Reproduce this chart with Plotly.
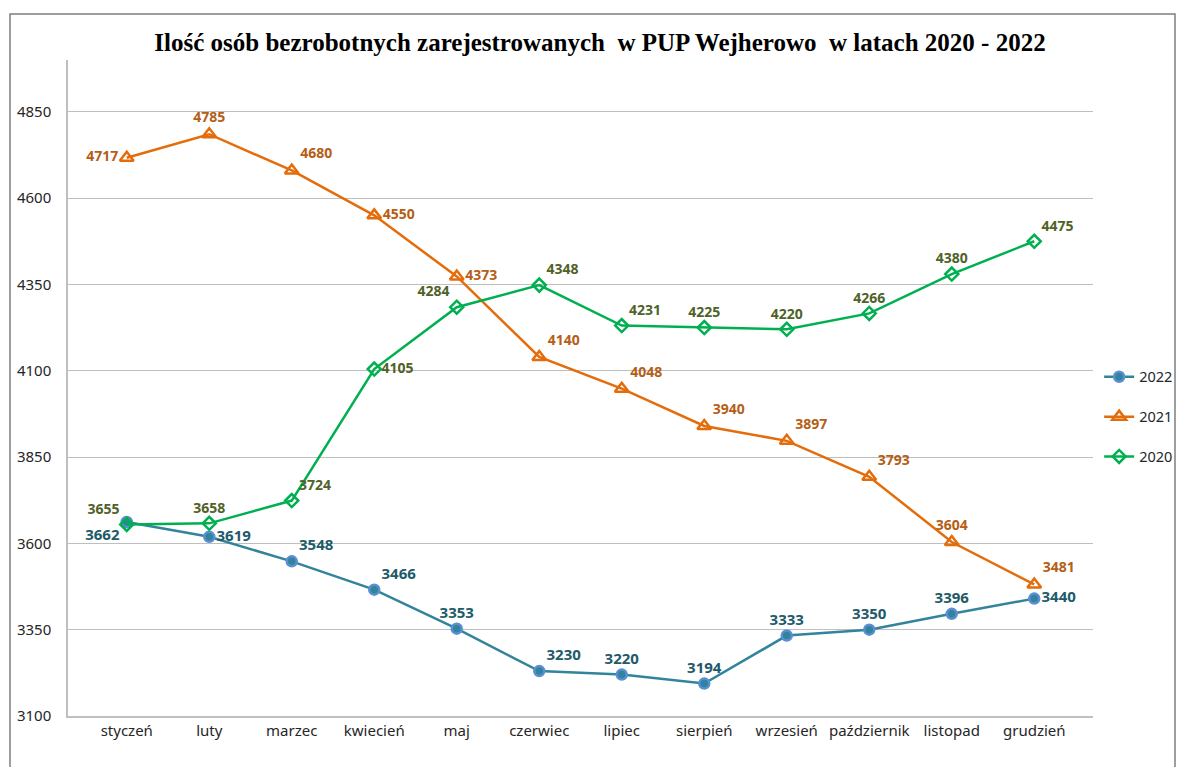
import plotly.graph_objects as go

months = ["styczeń", "luty", "marzec", "kwiecień", "maj", "czerwiec", "lipiec",
          "sierpień", "wrzesień", "październik", "listopad", "grudzień"]
y2022 = [3662, 3619, 3548, 3466, 3353, 3230, 3220, 3194, 3333, 3350, 3396, 3440]
y2021 = [4717, 4785, 4680, 4550, 4373, 4140, 4048, 3940, 3897, 3793, 3604, 3481]
y2020 = [3655, 3658, 3724, 4105, 4284, 4348, 4231, 4225, 4220, 4266, 4380, 4475]
yticks = [3100, 3350, 3600, 3850, 4100, 4350, 4600, 4850]

pos2022 = ["bottom left", "middle right", "top right", "top right", "top center", "top right",
           "top center", "top center", "top center", "top center", "top center", "middle right"]
pos2021 = ["middle left", "top center", "top right", "middle right", "middle right", "top right",
           "top right", "top right", "top right", "top right", "top center", "top right"]
pos2020 = ["top left", "top center", "top right", "middle right", "top left", "top right",
           "top right", "top center", "top center", "top center", "top center", "top right"]

fig = go.Figure()
fig.add_trace(go.Scatter(
    x=months, y=y2022, name="2022", mode="lines+markers+text", legendgroup="a",
    text=[str(v) for v in y2022], textposition=pos2022,
    textfont=dict(family="Noto Sans", size=15, color="#215a69", weight="bold"),
    line=dict(color="#31849b", width=2.5),
    marker=dict(symbol="circle", size=10, color="#31849b", line=dict(color="#5b8fd4", width=2.5)),
))
fig.add_trace(go.Scatter(
    x=months, y=y2021, name="2021", mode="lines+markers+text", legendgroup="b",
    text=[str(v) for v in y2021], textposition=pos2021,
    textfont=dict(family="Noto Sans", size=14, color="#b55e16", weight="bold"),
    line=dict(color="#e46c0a", width=2.5),
    marker=dict(symbol="triangle-up-open", size=12, color="#e46c0a", line=dict(color="#e46c0a", width=2.5)),
))
fig.add_trace(go.Scatter(
    x=months, y=y2020, name="2020", mode="lines+markers+text", legendgroup="c",
    text=[str(v) for v in y2020], textposition=pos2020,
    textfont=dict(family="Noto Sans", size=14, color="#4f6228", weight="bold"),
    line=dict(color="#00b050", width=2.5),
    marker=dict(symbol="diamond-open", size=10, color="#00b050", line=dict(color="#00b050", width=2.5)),
))

fig.update_layout(
    width=1178, height=767,
    margin=dict(l=68, r=85, t=60, b=51, autoexpand=False),
    paper_bgcolor="white", plot_bgcolor="white",
    title=dict(text="<b>Ilość osób bezrobotnych zarejestrowanych  w PUP Wejherowo  w latach 2020 - 2022</b>",
               x=600 / 1178, xanchor="center", y=1 - 42 / 767, yanchor="middle",
               font=dict(family="Liberation Serif", size=25, color="black")),
    font=dict(family="Noto Sans", size=15, color="#262626"),
    showlegend=True,
    legend=dict(x=1.006, y=0.456, xanchor="left", yanchor="middle",
                bgcolor="rgba(0,0,0,0)",
                font=dict(family="Noto Sans", size=14.5, color="#262626"),
                tracegroupgap=18, itemsizing="trace"),
    shapes=[dict(type="rect", xref="paper", yref="paper",
                 x0=-0.0566, x1=1.080, y0=-0.2, y1=1.070,
                 line=dict(color="#7f7f7f", width=1.5), layer="below")],
)
fig.update_xaxes(showgrid=False, showline=True, linecolor="#bfbfbf", linewidth=1.5,
                 ticks="", automargin=False, tickfont=dict(size=15, color="#262626"))
fig.update_yaxes(range=[3100, 5000], showgrid=True, tickvals=yticks,
                 gridcolor="#bfbfbf", gridwidth=1, showline=True, linecolor="#bfbfbf",
                 linewidth=1.5, zeroline=False, ticks="", ticklabelstandoff=12,
                 automargin=False, tickfont=dict(size=15, color="#262626"))

fig.write_html("out.html", config={"displayModeBar": False},
               post_script="document.body.style.margin='0';")
